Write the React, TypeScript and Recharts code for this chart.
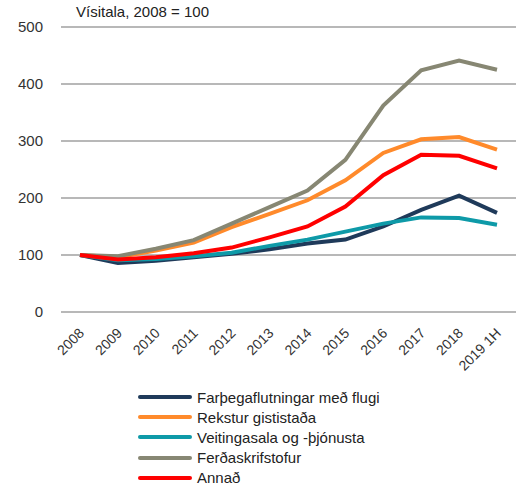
import { LineChart, Line, XAxis, YAxis, CartesianGrid } from 'recharts';

const years = ['2008', '2009', '2010', '2011', '2012', '2013', '2014', '2015', '2016', '2017', '2018', '2019 1H'];

const flug = [100, 86, 90, 96, 102, 110, 120, 127, 150, 179, 204, 174];
const gisting = [100, 96, 108, 122, 149, 172, 196, 231, 279, 303, 307, 285];
const veitingar = [100, 91, 93, 98, 104, 116, 127, 141, 155, 166, 165, 153];
const ferdaskrif = [100, 98, 111, 126, 155, 184, 213, 267, 362, 424, 441, 425];
const annad = [100, 92, 96, 103, 113, 131, 150, 185, 240, 276, 274, 252];

const yTicks = [0, 100, 200, 300, 400, 500];

const series = [
  { key: 'flug', name: 'Farþegaflutningar með flugi', color: '#1f3a5a' },
  { key: 'gisting', name: 'Rekstur gististaða', color: '#ff8a2b' },
  { key: 'veitingar', name: 'Veitingasala og -þjónusta', color: '#0e9aa8' },
  { key: 'ferdaskrif', name: 'Ferðaskrifstofur', color: '#878773' },
  { key: 'annad', name: 'Annað', color: '#ff0000' },
];

const data = years.map((year, i) => ({
  year,
  flug: flug[i],
  gisting: gisting[i],
  veitingar: veitingar[i],
  ferdaskrif: ferdaskrif[i],
  annad: annad[i],
}));

const font = '"Liberation Sans", Arial, sans-serif';

function YearTick({ x, y, payload }: any) {
  return (
    <text
      x={x + 5}
      y={y + 14}
      textAnchor="end"
      fontSize={14}
      fontFamily={font}
      fill="#333"
      transform={`rotate(-45, ${x + 5}, ${y + 14})`}
    >
      {payload.value}
    </text>
  );
}

export default function App() {
  return (
    <div style={{ position: 'absolute', left: 0, top: 0, width: 520, height: 489, background: '#fff' }}>
      <div
        style={{
          position: 'absolute',
          left: 76,
          top: 3,
          fontFamily: font,
          fontSize: 15,
          color: '#222',
          zIndex: 2,
        }}
      >
        Vísitala, 2008 = 100
      </div>
      <LineChart
        width={520}
        height={489}
        data={data}
        margin={{ top: 27, right: 4, left: 0, bottom: 117 }}
      >
        <CartesianGrid vertical={false} stroke="#a0a0a0" strokeWidth={1.5} />
        <XAxis
          dataKey="year"
          axisLine={false}
          tickLine={false}
          interval={0}
          height={60}
          padding={{ left: 19, right: 19 }}
          tick={<YearTick />}
        />
        <YAxis
          domain={[0, 500]}
          ticks={yTicks}
          width={61}
          axisLine={false}
          tickLine={false}
          tickMargin={12}
          tick={{ fontSize: 15, fontFamily: font, fill: '#333' }}
        />
        {series.map((s) => (
          <Line
            key={s.key}
            dataKey={s.key}
            name={s.name}
            stroke={s.color}
            strokeWidth={4}
            dot={false}
            type="linear"
            isAnimationActive={false}
          />
        ))}
      </LineChart>
      {/* legend */}
      <div style={{ position: 'absolute', left: 138, top: 387, fontFamily: font, fontSize: 15, color: '#222' }}>
        {series.map((s) => (
          <div key={s.key} style={{ display: 'flex', alignItems: 'center', height: 20.2 }}>
            <div style={{ width: 54, height: 4, background: s.color, borderRadius: 2, marginRight: 5 }} />
            <span>{s.name}</span>
          </div>
        ))}
      </div>
    </div>
  );
}
